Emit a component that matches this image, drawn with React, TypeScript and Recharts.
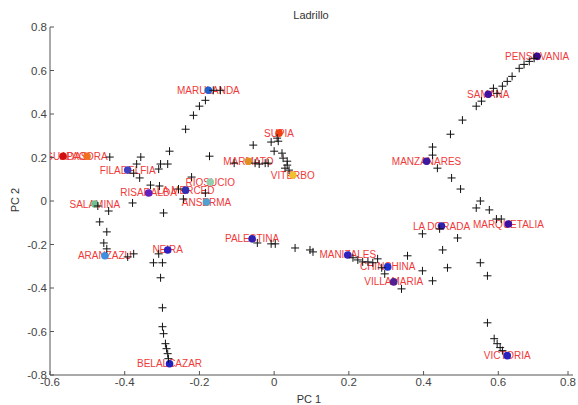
import { ScatterChart, Scatter, XAxis, YAxis } from "recharts"

const townNames = [
  "PENSILVANIA", "SAMANA", "MANZANARES", "LA DORADA", "MARQUETALIA", "VICTORIA",
  "MANIZALES", "CHINCHINA", "VILLAMARIA", "PALESTINA", "BELALCAZAR", "NEIRA",
  "ARANZAZU", "SALAMINA", "AGUADAS", "PACORA", "FILADELFIA", "RISARALDA",
  "LA MERCED", "RIOSUCIO", "ANSERMA", "MARULANDA", "MARMATO", "SUPIA", "VITERBO",
]
const townX = [
  0.704, 0.573, 0.408, 0.448, 0.627, 0.624,
  0.197, 0.304, 0.32, -0.059, -0.28, -0.285,
  -0.453, -0.48, -0.565, -0.501, -0.392, -0.336,
  -0.237, -0.171, -0.181, -0.176, -0.069, 0.013, 0.05,
]
const townY = [
  0.665, 0.491, 0.183, -0.115, -0.106, -0.711,
  -0.248, -0.303, -0.372, -0.174, -0.748, -0.225,
  -0.252, -0.014, 0.206, 0.206, 0.142, 0.037,
  0.05, 0.087, -0.005, 0.509, 0.183, 0.312, 0.119,
]
const townColors = [
  "#3a0a8a", "#4010a0", "#3a1aa0", "#3020b0", "#3a10a0", "#2a20c0",
  "#3020c0", "#2030d0", "#502090", "#3020b0", "#2020c0", "#3020c0",
  "#4090e0", "#70c090", "#d01010", "#f07020", "#4040c0", "#6020c0",
  "#3030b0", "#90d0b0", "#50a0d0", "#2060d0", "#e09020", "#f04010", "#f0c030",
]

// black "+" markers (trajectories)
const plusX = [
  -0.237, -0.216, -0.2, -0.184, -0.163, -0.144,
  -0.28, -0.285, -0.304, -0.309, -0.357, -0.368, -0.36, -0.376, -0.44,
  -0.331, -0.307, -0.221, -0.256, -0.173, -0.243, -0.184, -0.296, -0.379,
  -0.056, -0.008, 0.011, 0.0, 0.021, 0.024, 0.035, 0.035, 0.029, 0.04, 0.008,
  -0.107, -0.051, -0.04, -0.024, -0.016,
  -0.443, -0.467, -0.448, -0.456, -0.448, -0.376, -0.392, -0.472,
  -0.323, -0.299, -0.304, -0.299, -0.299, -0.296, -0.291, -0.288, -0.285, -0.283, -0.309,
  -0.045, -0.008, 0.003, 0.056, 0.096, 0.104,
  0.211, 0.224, 0.237, 0.251, 0.264, 0.277, 0.288, 0.296, 0.341, 0.357, 0.397, 0.424,
  0.397, 0.443, 0.451, 0.464, 0.491, 0.541, 0.576, 0.595, 0.608, 0.552, 0.571,
  0.571, 0.589, 0.597, 0.605, 0.611,
  0.424, 0.424, 0.437, 0.475, 0.499, 0.552,
  0.472, 0.504, 0.541, 0.555, 0.597, 0.611, 0.624, 0.637, 0.656, 0.669, 0.683, 0.696, 0.587,
]
const plusY = [
  0.33, 0.394, 0.436, 0.463, 0.509, 0.509,
  0.229, 0.17, 0.17, 0.147, 0.202, 0.17, 0.106, 0.128, 0.202,
  0.073, 0.069, 0.11, 0.055, 0.206, 0.009, 0.037, -0.055, -0.009,
  0.257, 0.271, 0.275, 0.229, 0.22, 0.197, 0.183, 0.165, 0.151, 0.142, 0.289,
  0.174, 0.174, 0.17, 0.174, 0.174,
  -0.046, -0.096, -0.142, -0.193, -0.22, -0.243, -0.257, -0.023,
  -0.284, -0.284, -0.353, -0.491, -0.578, -0.61, -0.656, -0.679, -0.702, -0.725, -0.243,
  -0.193, -0.197, -0.197, -0.216, -0.225, -0.234,
  -0.261, -0.271, -0.28, -0.28, -0.284, -0.266, -0.307, -0.335, -0.404, -0.252, -0.321, -0.367,
  -0.151, -0.128, -0.225, -0.307, -0.17, -0.032, -0.041, -0.083, -0.083, -0.284, -0.344,
  -0.56, -0.633, -0.656, -0.674, -0.688,
  0.248, 0.211, 0.151, 0.106, 0.055, 0.0,
  0.307, 0.372, 0.436, 0.459, 0.495, 0.528, 0.55, 0.573, 0.61, 0.628, 0.642, 0.656, 0.518,
]

const xTicks = [-0.6, -0.4, -0.2, 0, 0.2, 0.4, 0.6, 0.8]
const yTicks = [-0.8, -0.6, -0.4, -0.2, 0, 0.2, 0.4, 0.6, 0.8]

const towns = townNames.map((name, i) => ({ name, x: townX[i], y: townY[i], color: townColors[i] }))
const pluses = plusX.map((x, i) => ({ x, y: plusY[i] }))

const font = "'Liberation Sans', Arial, sans-serif"

// matlab style ticks: mark points into the plot, label outside
const XTick = (props: any) => {
  const { x, y, payload } = props
  return (
    <g>
      <line x1={x} y1={y - 3} x2={x} y2={y - 7} stroke="#555" />
      <text x={x} y={y + 8} textAnchor="middle" fontSize={11.5} fontFamily={font} fill="#444">
        {`${payload.value}`}
      </text>
    </g>
  )
}

const YTick = (props: any) => {
  const { x, y, payload } = props
  return (
    <g>
      <line x1={x + 4} y1={y} x2={x + 8} y2={y} stroke="#555" />
      <text x={x + 1} y={y} textAnchor="end" dominantBaseline="central" fontSize={11.5} fontFamily={font} fill="#444">
        {`${payload.value}`}
      </text>
    </g>
  )
}

const LabelShape = (props: any) => (
  <text
    x={props.cx}
    y={props.cy}
    textAnchor="middle"
    dominantBaseline="central"
    fontSize={10}
    fontFamily={font}
    fill="#f03a3a"
  >
    {props.payload.name}
  </text>
)

const DotShape = (props: any) => <circle cx={props.cx} cy={props.cy} r={3.8} fill={props.payload.color} />

const PlusShape = (props: any) => (
  <g stroke="#111" strokeWidth={1}>
    <line x1={props.cx - 4} y1={props.cy} x2={props.cx + 4} y2={props.cy} />
    <line x1={props.cx} y1={props.cy - 4} x2={props.cx} y2={props.cy + 4} />
  </g>
)

export default function App() {
  return (
    <div style={{ position: "absolute", left: 0, top: 0, width: 578, height: 405, background: "#fff" }}>
      <ScatterChart width={578} height={405} margin={{ top: 27, right: 5, bottom: 0, left: 0 }}>
        <XAxis
          type="number"
          dataKey="x"
          domain={[-0.6, 0.8]}
          ticks={xTicks}
          allowDataOverflow
          height={30}
          stroke="#555"
          tickLine={false}
          tickSize={0}
          tickMargin={3}
          tick={<XTick />}
        />
        <YAxis
          type="number"
          dataKey="y"
          domain={[-0.8, 0.8]}
          ticks={yTicks}
          allowDataOverflow
          width={50}
          stroke="#555"
          tickLine={false}
          tickSize={0}
          tickMargin={4}
          tick={<YTick />}
        />
        <Scatter data={towns} shape={LabelShape} isAnimationActive={false} />
        <Scatter data={towns} shape={DotShape} isAnimationActive={false} />
        <Scatter data={pluses} shape={PlusShape} isAnimationActive={false} />
        <text x={311} y={15} textAnchor="middle" dominantBaseline="central" fontSize={11} fontFamily={font} fill="#333">
          Ladrillo
        </text>
        <text x={309} y={399} textAnchor="middle" dominantBaseline="central" fontSize={11} fontFamily={font} fill="#333">
          PC 1
        </text>
        <text
          x={15}
          y={200}
          textAnchor="middle"
          dominantBaseline="central"
          fontSize={11}
          fontFamily={font}
          fill="#333"
          transform="rotate(-90 15 200)"
        >
          PC 2
        </text>
      </ScatterChart>
    </div>
  )
}
